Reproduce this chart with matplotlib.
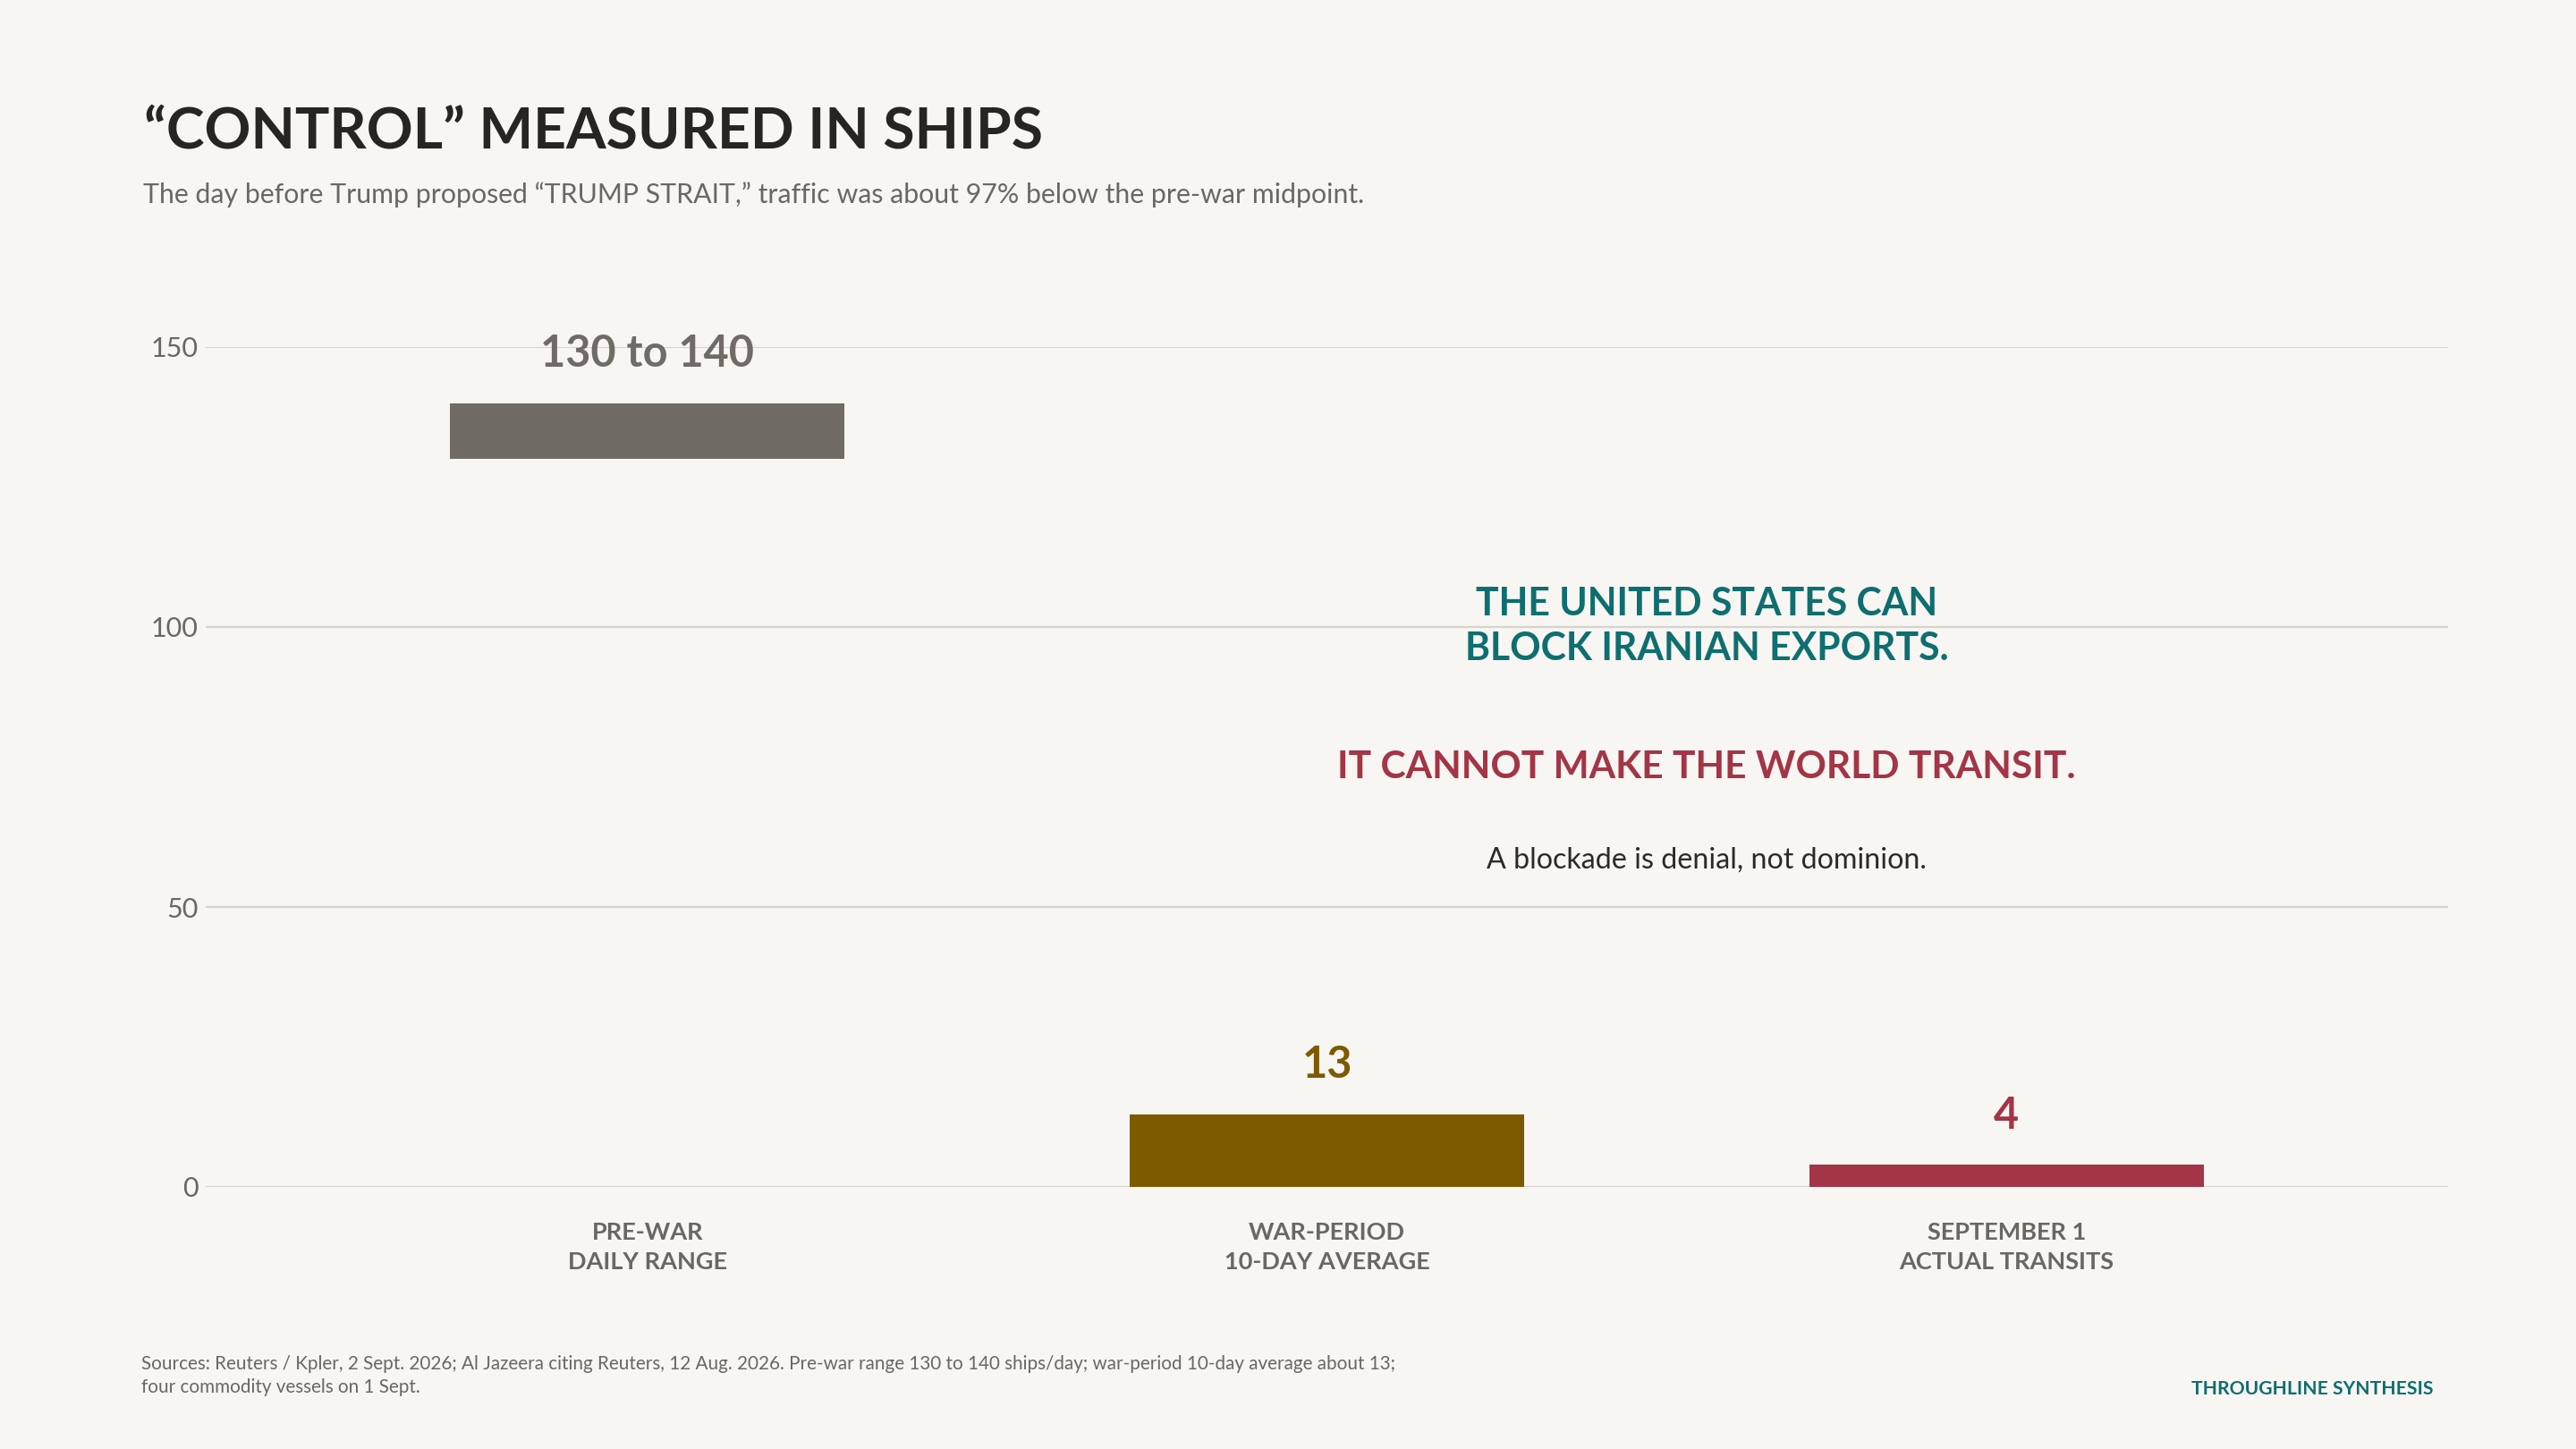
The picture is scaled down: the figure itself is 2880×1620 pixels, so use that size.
import matplotlib
matplotlib.use("Agg")
import matplotlib.pyplot as plt

categories = ["PRE-WAR\nDAILY RANGE", "WAR-PERIOD\n10-DAY AVERAGE", "SEPTEMBER 1\nACTUAL TRANSITS"]
bar_bottoms = [130, 0, 0]
bar_tops = [140, 13, 4]
value_labels = ["130 to 140", "13", "4"]
y_ticks = [0, 50, 100, 150]

BG = "#f7f6f2"
colors = ["#706b64", "#7d5a00", "#a33546"]
GRAY = "#6b6760"
DARK = "#262520"
TEAL = "#0e6e70"
RED = "#a33546"
GRID = "#d6d4cd"

plt.rcParams["font.family"] = ["Lato", "DejaVu Sans"]

W, H = 2880, 1620
fig = plt.figure(figsize=(28.8, 16.2), dpi=100, facecolor=BG)

def fx(px):
    return px / W

def fy(py):
    return 1 - py / H

ax = fig.add_axes([fx(230), fy(1327), fx(2737) - fx(230), fy(388) - fy(1327)])
ax.set_facecolor(BG)

xs = list(range(len(categories)))
heights = [t - b for t, b in zip(bar_tops, bar_bottoms)]
ax.bar(xs, heights, bottom=bar_bottoms, width=0.58, color=colors, zorder=3)

ax.set_xlim(-0.65, 2.65)
ax.set_ylim(0, 150)
ax.set_yticks(y_ticks)
ax.set_yticklabels([str(v) for v in y_ticks], fontsize=22, color=GRAY)
ax.grid(axis="y", color=GRID, linewidth=1.6, zorder=0)
ax.set_axisbelow(True)
for s in ax.spines.values():
    s.set_visible(False)
ax.tick_params(axis="y", length=0, pad=6)
ax.tick_params(axis="x", length=0, pad=28)
ax.set_xticks(xs)
ax.set_xticklabels(categories, fontsize=19.5, fontweight="bold", color=GRAY, linespacing=1.45)

for x, top, lab, c in zip(xs, bar_tops, value_labels, colors):
    ax.annotate(lab, xy=(x, top), xytext=(0, 29), textcoords="offset points",
                ha="center", va="baseline", fontsize=35, fontweight="bold",
                color=c, annotation_clip=False)

fig.text(fx(161), fy(165), "\u201cCONTROL\u201d MEASURED IN SHIPS", fontsize=46.3,
         fontweight="bold", color=DARK, ha="left", va="baseline")
fig.text(fx(160), fy(227),
         "The day before Trump proposed \u201cTRUMP STRAIT,\u201d traffic was about 97% below the pre-war midpoint.",
         fontsize=21.8, color=GRAY, ha="left", va="baseline")

cx = fx(1908)
fig.text(cx, fy(688), "THE UNITED STATES CAN", fontsize=30.7, fontweight="bold",
         color=TEAL, ha="center", va="baseline")
fig.text(cx, fy(738), "BLOCK IRANIAN EXPORTS.", fontsize=30.7, fontweight="bold",
         color=TEAL, ha="center", va="baseline")
fig.text(cx, fy(870), "IT CANNOT MAKE THE WORLD TRANSIT.", fontsize=30.6, fontweight="bold",
         color=RED, ha="center", va="baseline")
fig.text(cx, fy(971), "A blockade is denial, not dominion.", fontsize=23.2,
         color="#2b2a25", ha="center", va="baseline")

fig.text(fx(158), fy(1531),
         "Sources: Reuters / Kpler, 2 Sept. 2026; Al Jazeera citing Reuters, 12 Aug. 2026. "
         "Pre-war range 130 to 140 ships/day; war-period 10-day average about 13;",
         fontsize=14.85, color=GRAY, ha="left", va="baseline")
fig.text(fx(158), fy(1557), "four commodity vessels on 1 Sept.",
         fontsize=14.85, color=GRAY, ha="left", va="baseline")
fig.text(fx(2721), fy(1559), "THROUGHLINE SYNTHESIS", fontsize=15.2, fontweight="bold",
         color=TEAL, ha="right", va="baseline")

fig.savefig("out.png", dpi=100, facecolor=BG)
